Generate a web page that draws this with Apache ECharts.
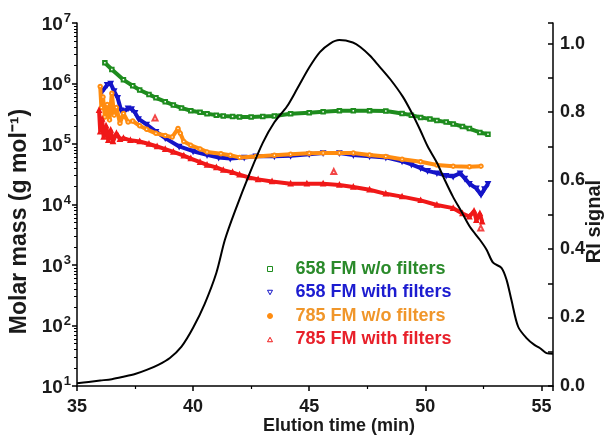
<!DOCTYPE html>
<html><head><meta charset="utf-8">
<script src="https://cdn.jsdelivr.net/npm/echarts@6/dist/echarts.min.js"></script>
<style>html,body{margin:0;padding:0;background:#fff}#c{width:611px;height:437px}</style>
</head><body><div id="c"></div>
<script>
const FONT = 'Liberation Sans';
const seriesNames = ['658 FM w/o filters', '658 FM with filters', '785 FM w/o filters', '785 FM with filters'];
const xTicks = [35, 40, 45, 50, 55];
const riTicks = [0.0, 0.2, 0.4, 0.6, 0.8, 1.0];

// [elution time (min), molar mass (g/mol)]
const green658 = [[36.2,2.2e6],[36.5,1.7e6],[37.0,1.15e6],[37.4,9.2e5],[37.7,7.8e5],[38.1,6.6e5],[38.4,5.8e5],[38.8,5.0e5],[39.15,4.4e5],[39.5,3.95e5],[39.9,3.55e5],[40.3,3.35e5],[40.6,3.15e5],[41.0,3.0e5],[41.3,2.9e5],[41.7,2.85e5],[42.0,2.8e5],[42.5,2.8e5],[43.0,2.85e5],[43.5,2.9e5],[44.2,3.15e5],[45.0,3.3e5],[45.6,3.4e5],[46.3,3.55e5],[46.9,3.55e5],[47.6,3.55e5],[48.3,3.5e5],[49.0,3.2e5],[49.4,3.0e5],[49.8,2.75e5],[50.2,2.6e5],[50.5,2.45e5],[50.9,2.3e5],[51.2,2.15e5],[51.6,1.95e5],[51.9,1.8e5],[52.35,1.55e5],[52.7,1.45e5]];
const blue658 = [[36.1,7.5e5],[36.3,9.5e5],[36.45,1.0e6],[36.6,7.5e5],[36.75,5.8e5],[36.9,3.6e5],[37.05,3.5e5],[37.2,3.9e5],[37.35,3.8e5],[37.5,3.3e5],[37.65,2.6e5],[38.0,2.1e5],[38.4,1.6e5],[38.8,1.25e5],[39.4,9.1e4],[40.0,7.6e4],[40.6,6.6e4],[41.1,6.0e4],[41.6,5.75e4],[42.2,6.0e4],[42.7,6.3e4],[43.5,6.3e4],[44.2,6.4e4],[45.0,6.8e4],[45.6,7.1e4],[46.3,7.1e4],[46.9,6.6e4],[47.6,6.3e4],[48.3,6.0e4],[49.0,5.2e4],[49.4,4.6e4],[49.8,4.0e4],[50.1,3.6e4],[50.5,3.3e4],[50.9,3.0e4],[51.2,2.9e4],[51.5,3.3e4],[51.7,2.7e4],[51.9,2.2e4],[52.2,1.85e4],[52.4,1.45e4],[52.55,1.8e4],[52.7,2.2e4]];
const orange785 = [[36.0,8.9e5],[36.05,4.0e5],[36.12,6.0e5],[36.2,2.8e5],[36.3,4.5e5],[36.4,2.5e5],[36.5,6.9e5],[36.6,3.0e5],[36.7,4.0e5],[36.85,2.2e5],[37.0,3.2e5],[37.2,2.3e5],[37.4,2.4e5],[37.7,2.0e5],[38.0,1.75e5],[38.4,1.5e5],[38.8,1.38e5],[39.1,1.3e5],[39.35,1.8e5],[39.45,1.5e5],[39.6,1.1e5],[39.9,9.5e4],[40.3,8.3e4],[40.6,7.4e4],[41.2,6.9e4],[41.6,6.5e4],[42.0,6.0e4],[42.7,6.2e4],[43.5,6.5e4],[44.2,6.8e4],[45.0,7.0e4],[45.6,7.1e4],[46.3,7.1e4],[46.9,7.1e4],[47.6,6.6e4],[48.3,6.2e4],[49.0,5.6e4],[49.8,5.1e4],[50.5,4.5e4],[51.2,4.3e4],[51.9,4.2e4],[52.4,4.3e4]];
const red785 = [[35.95,3.6e5],[36.0,1.6e5],[36.08,2.6e5],[36.15,1.3e5],[36.25,2.0e5],[36.35,1.15e5],[36.45,1.7e5],[36.55,1.1e5],[36.7,1.5e5],[36.85,1.2e5],[37.0,1.25e5],[37.3,1.15e5],[37.7,1.1e5],[38.1,1.0e5],[38.45,9.1e4],[38.8,8.2e4],[39.15,7.4e4],[39.6,6.4e4],[39.9,5.75e4],[40.3,5.0e4],[40.6,4.5e4],[41.0,4.1e4],[41.3,3.7e4],[41.7,3.4e4],[42.0,3.1e4],[42.4,2.8e4],[42.8,2.6e4],[43.4,2.4e4],[44.2,2.2e4],[44.9,2.2e4],[45.6,2.2e4],[46.3,2.1e4],[46.9,1.95e4],[47.6,1.75e4],[48.3,1.5e4],[49.0,1.35e4],[49.8,1.17e4],[50.5,9.8e3],[51.2,8.7e3],[51.6,7.1e3],[51.9,6.3e3],[52.1,7.8e3],[52.2,5.5e3],[52.35,7.1e3],[52.45,5.2e3]];
const red785Outliers = [[38.36,2.7e5],[46.06,3.5e4],[52.39,4.1e3]];
// [elution time (min), RI signal]
const riSignal = [[35.0,0.008],[35.5,0.012],[36.0,0.016],[36.5,0.02],[37.0,0.027],[37.5,0.035],[38.0,0.047],[38.5,0.062],[39.0,0.082],[39.5,0.115],[40.0,0.17],[40.5,0.24],[41.0,0.33],[41.37,0.427],[41.8,0.51],[42.45,0.623],[43.0,0.71],[43.5,0.77],[44.04,0.816],[44.5,0.87],[45.0,0.93],[45.46,0.975],[45.9,1.0],[46.3,1.01],[46.88,1.003],[47.2,0.99],[47.61,0.965],[48.0,0.935],[48.5,0.895],[49.03,0.845],[49.4,0.8],[49.77,0.749],[50.1,0.7],[50.5,0.652],[50.85,0.6],[51.19,0.553],[51.55,0.51],[51.92,0.465],[52.35,0.427],[52.64,0.398],[52.92,0.36],[53.28,0.345],[53.5,0.31],[53.71,0.251],[54.0,0.173],[54.36,0.14],[54.7,0.12],[54.93,0.111],[55.22,0.096],[55.5,0.094]];

const colors = ['#1e8c1e', '#1414c8', '#ff8c10', '#f01818'];
const textColors = ['#2a8a2a', '#1c1cd0', '#f0962a', '#e8202a'];
const icons = ['emptyRect', 'emptyTriangle', 'emptyCircle', 'emptyTriangle'];
const legendIcons = ['rect', 'path://M0,0 L10,0 L5,9 Z', 'circle', 'path://M5,0 L10,9 L0,9 Z'];
const legendFill = ['#fff', '#fff', '#ff8c10', '#fff'];
const iconRot = [0, 180, 0, 0];
const dataSets = [green658, blue658, orange785, red785];

const chart = echarts.init(document.getElementById('c'), null, {renderer: 'canvas'});
const lbl = {fontFamily: FONT, fontWeight: 'bold', fontSize: 18, color: '#1a1a1a'};
const series = dataSets.map((d, i) => ({
  name: seriesNames[i], type: 'line', xAxisIndex: 0, yAxisIndex: 0, data: d,
  symbol: icons[i], symbolRotate: iconRot[i], symbolSize: 3.5, showSymbol: true,
  lineStyle: {color: colors[i], width: 4}, itemStyle: {color: colors[i], borderColor: colors[i], borderWidth: 1},
  animation: false, z: 2 + i
}));
series.push({name: 'outliers', type: 'scatter', data: red785Outliers, symbol: 'emptyTriangle', symbolSize: 5,
  itemStyle: {color: colors[3], borderColor: colors[3], borderWidth: 1.2}, animation: false, z: 6});
series.push({name: 'RI', type: 'line', yAxisIndex: 1, data: riSignal, showSymbol: false, smooth: 0.3,
  lineStyle: {color: '#000', width: 2}, animation: false, z: 10});

chart.setOption({
  backgroundColor: '#fff',
  grid: {left: 77, right: 58, top: 23, bottom: 51, containLabel: false, outerBoundsMode: 'none'},
  legend: {
    orient: 'vertical', left: 262, top: 255, itemGap: 5.5, itemWidth: 5, itemHeight: 5,
    textStyle: {fontFamily: FONT, fontWeight: 'bold', fontSize: 18, rich: {p: {width: 18}}},
    formatter: n => '{p|}' + n,
    data: seriesNames.map((n, i) => ({name: n, icon: legendIcons[i],
      itemStyle: {color: legendFill[i], borderColor: colors[i], borderWidth: 1},
      textStyle: {color: textColors[i]}}))
  },
  xAxis: {
    type: 'value', min: 35, max: 55.5, interval: 5,
    name: 'Elution time (min)', nameLocation: 'middle', nameGap: 31, nameMoveOverlap: false,
    nameTextStyle: {fontFamily: FONT, fontWeight: 'bold', fontSize: 18, color: '#1a1a1a', padding: [0, 0, 0, 48]},
    axisLine: {show: true, lineStyle: {color: '#000', width: 1.5}},
    axisTick: {show: true, inside: false, length: 5, lineStyle: {color: '#000', width: 1.5}},
    minorTick: {show: true, splitNumber: 2, length: 3, lineStyle: {color: '#000', width: 1.2}},
    axisLabel: Object.assign({margin: 12, showMaxLabel: false, formatter: v => xTicks.includes(v) ? String(v) : ''}, lbl),
    splitLine: {show: false}
  },
  yAxis: [{
    type: 'log', logBase: 10, min: 10, max: 1e7, position: 'left',
    name: 'Molar mass (g mol\u207B\u00B9)', nameLocation: 'middle', nameGap: 46, nameRotate: 90, nameMoveOverlap: false,
    nameTextStyle: {fontFamily: FONT, fontWeight: 'bold', fontSize: 23, color: '#1a1a1a', padding: [0, 34, 0, 0]},
    axisLine: {show: true, lineStyle: {color: '#000', width: 1.5}},
    axisTick: {show: true, inside: false, length: 5, lineStyle: {color: '#000', width: 1.5}},
    minorTick: {show: true, splitNumber: 9, length: 3, lineStyle: {color: '#000', width: 1}},
    axisLabel: {margin: 6, formatter: v => '{b|10}{s|' + Math.round(Math.log10(v)) + '}',
      rich: {b: {fontFamily: FONT, fontWeight: 'bold', fontSize: 19, color: '#1a1a1a', lineHeight: 22, verticalAlign: 'bottom'},
             s: {fontFamily: FONT, fontWeight: 'bold', fontSize: 13, color: '#1a1a1a', lineHeight: 22, verticalAlign: 'top', padding: [0, 0, 10, 1]}}},
    splitLine: {show: false}
  }, {
    type: 'value', min: 0, max: 1.06, interval: 0.2, position: 'right',
    name: 'RI signal', nameLocation: 'middle', nameGap: 31, nameRotate: 90, nameMoveOverlap: false,
    nameTextStyle: {fontFamily: FONT, fontWeight: 'bold', fontSize: 20, color: '#1a1a1a', padding: [0, 34, 0, 0]},
    axisLine: {show: true, lineStyle: {color: '#000', width: 1.5}},
    axisTick: {show: true, inside: true, length: 5, lineStyle: {color: '#000', width: 1.5}},
    minorTick: {show: true, splitNumber: 2, length: 5, lineStyle: {color: '#000', width: 1.5}},
    axisLabel: Object.assign({margin: 7, showMaxLabel: false, formatter: v => riTicks.some(t => Math.abs(t - v) < 1e-9) ? v.toFixed(1) : ''}, lbl),
    splitLine: {show: false}
  }],
  series: series
});
</script></body></html>
